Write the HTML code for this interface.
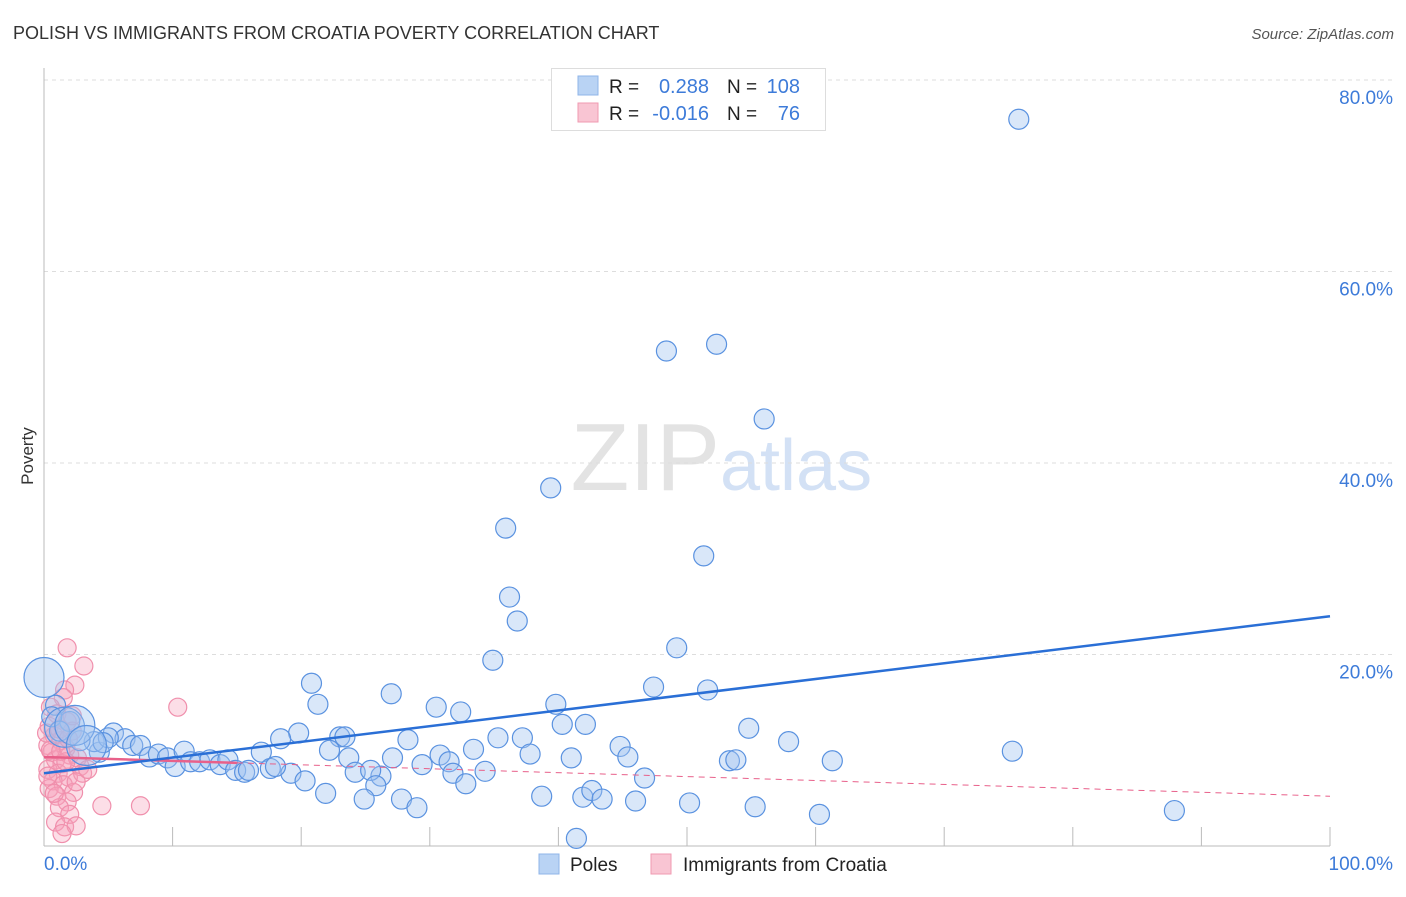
<!DOCTYPE html>
<html><head><meta charset="utf-8"><style>
body{margin:0;background:#fff;font-family:"Liberation Sans",sans-serif;}
svg text{font-family:"Liberation Sans",sans-serif;}
</style></head><body>
<svg id="chart" width="1406" height="892" xmlns="http://www.w3.org/2000/svg">
<text x="13" y="39" font-size="18" fill="#333">POLISH VS IMMIGRANTS FROM CROATIA POVERTY CORRELATION CHART</text>
<text x="1394" y="39" font-size="15" fill="#555" text-anchor="end" font-style="italic">Source: ZipAtlas.com</text>
<text x="33" y="456" font-size="17" fill="#333" text-anchor="middle" transform="rotate(-90 33 456)">Poverty</text>
<text x="720" y="490" font-size="96" fill="#e3e3e3" text-anchor="end" font-family="Liberation Serif">ZIP</text>
<text x="720" y="490" font-size="72" fill="#d3e1f5">atlas</text>
<g id="grid"></g>
<g id="axes"></g>
<g id="pinkpts"></g>
<g id="bluepts"></g>
<g id="lines"></g>
<g>
<rect x="551.5" y="68.5" width="274" height="62" fill="#fff" stroke="#ddd"/>
<rect x="578" y="76" width="20" height="19" fill="#b9d3f4" stroke="#8fb4e8"/>
<rect x="578" y="103" width="20" height="19" fill="#f9c5d3" stroke="#f09ab2"/>
<text x="609" y="93" font-size="19" fill="#222">R =</text>
<text x="709" y="93" font-size="20" fill="#3d7bd9" text-anchor="end">0.288</text>
<text x="727" y="93" font-size="19" fill="#222">N =</text>
<text x="800" y="93" font-size="20" fill="#3d7bd9" text-anchor="end">108</text>
<text x="609" y="120" font-size="19" fill="#222">R =</text>
<text x="709" y="120" font-size="20" fill="#3d7bd9" text-anchor="end">-0.016</text>
<text x="727" y="120" font-size="19" fill="#222">N =</text>
<text x="800" y="120" font-size="20" fill="#3d7bd9" text-anchor="end">76</text>
</g>
<g>
<rect x="539" y="854" width="20" height="20" fill="#b9d3f4" stroke="#8fb4e8"/>
<text x="570" y="871" font-size="19" fill="#222">Poles</text>
<rect x="651" y="854" width="20" height="20" fill="#f9c5d3" stroke="#f09ab2"/>
<text x="683" y="871" font-size="19" fill="#222">Immigrants from Croatia</text>
</g>
</svg>
<script>
const yTicks=[20,40,60,80];
const xTickLabels=["0.0%","100.0%"];
const blueX=[75.8,48.4,52.3,56.0,39.4,35.9,51.3,36.2,36.8,34.9,49.2,20.8,21.3,27.0,47.4,51.6,39.8,30.5,32.4,19.8,18.4,54.8,40.3,42.1,28.3,35.3,37.2,57.9,23.0,23.4,44.8,75.3,22.2,16.9,33.4,30.8,37.8,41.0,45.4,23.7,27.1,29.4,31.5,53.3,53.8,61.3,34.3,24.2,26.2,25.4,31.8,19.2,20.3,46.7,25.8,32.8,21.9,24.9,27.8,29.0,38.7,41.9,42.6,43.4,46.0,50.2,55.3,60.3,87.9,41.4,0.9,4.3,3.9,5.4,6.3,6.9,7.5,8.2,8.9,9.6,10.2,10.9,11.4,12.1,12.9,13.7,14.3,14.9,15.6,15.9,17.6,18.0,5.0,4.6,2.0,2.8,0.6,1.2];
const blueY=[75.9,51.7,52.4,44.6,37.4,33.2,30.3,26.0,23.5,19.4,20.7,17.0,14.8,15.9,16.6,16.3,14.8,14.5,14.0,11.8,11.2,12.3,12.7,12.7,11.1,11.3,11.3,10.9,11.4,11.4,10.4,9.9,10.0,9.8,10.1,9.5,9.6,9.2,9.3,9.2,9.2,8.5,8.8,8.9,9.0,8.9,7.8,7.7,7.3,7.9,7.6,7.6,6.8,7.1,6.3,6.5,5.5,4.9,4.9,4.0,5.2,5.1,5.8,4.9,4.7,4.5,4.1,3.3,3.7,0.8,14.7,9.8,10.9,11.8,11.2,10.5,10.5,9.3,9.6,9.2,8.3,9.9,8.8,8.8,9.0,8.5,9.0,7.9,7.7,7.9,8.1,8.3,11.3,10.8,13.0,11.0,13.5,12.0];
const blueBigX=[0,1.6,2.4,3.3];
const blueBigY=[17.6,12.4,12.6,10.5];
const pinkX=[1.8,3.1,2.4,1.6,1.5,0.5,1.0,1.8,0.4,2.2,0.8,1.3,0.3,1.7,0.6,2.0,0.9,1.4,2.8,0.3,1.1,1.9,0.7,1.5,0.4,2.3,1.0,1.8,1.2,2.0,0.9,1.6,2.5,1.4,10.4,4.5,7.5,2.6,3.0,0.2,2.2,1.2,0.5,1.7,2.5,0.8,1.3,0.3,1.9,3.4];
const pinkY=[20.7,18.8,16.8,16.3,15.5,14.5,13.8,13.0,12.5,12.0,11.5,11.0,10.5,10.2,9.8,9.5,9.0,8.6,8.3,8.0,7.6,7.2,6.8,6.4,6.0,5.6,5.2,4.6,4.0,3.3,2.5,2.0,2.1,1.3,14.5,4.2,4.2,9.2,7.6,11.8,13.6,12.2,10.0,8.8,6.7,5.5,9.9,7.3,11.2,8.0];
const blueTrend=[7.6,24.0];
const pinkTrend=[9.3,5.2];
const NS="http://www.w3.org/2000/svg";
const X0=44,X1=1330,Y0=846,Y80=80;
const sx=v=>X0+(X1-X0)*v/100;
const sy=v=>Y0-(Y0-Y80)*v/80;
function mk(t,a,p){const e=document.createElementNS(NS,t);for(const k in a)e.setAttribute(k,a[k]);p.appendChild(e);return e;}
const grid=document.getElementById('grid');
yTicks.forEach(v=>{
 const l=mk('line',{x1:X0,x2:1394,y1:sy(v),y2:sy(v),stroke:'#ddd','stroke-dasharray':'4 4'},grid);
 
 
 const t=mk('text',{x:1393,y:sy(v)+24,'font-size':19,fill:'#3d7bd9','text-anchor':'end'},grid);
 t.textContent=v.toFixed(1)+'%';
 
 
});
const axes=document.getElementById('axes');
const ya=mk('line',{x1:X0,x2:X0,y1:68,y2:Y0,stroke:'#bbb'},axes);


const xa=mk('line',{x1:X0,x2:X1,y1:Y0,y2:Y0,stroke:'#bbb'},axes);


for(let i=1;i<=10;i++){
 const tk=mk('line',{x1:sx(i*10),x2:sx(i*10),y1:827,y2:Y0,stroke:'#bbb'},axes);
 
 
}
[[0,'start'],[100,'end']].forEach((p,i)=>{
 const t=mk('text',{x:i?1393:44,y:870,'font-size':19,fill:'#3d7bd9','text-anchor':p[1]},axes);
 t.textContent=xTickLabels[i];
 
 
});
const pg=document.getElementById('pinkpts');
pinkX.forEach((v,i)=>{
 const c=mk('circle',{cx:sx(v),cy:sy(pinkY[i]),r:9,fill:'rgba(246,160,186,0.35)',stroke:'#f08fac','stroke-width':1.2},pg);
 
 
});
const bg=document.getElementById('bluepts');
blueX.forEach((v,i)=>{
 const c=mk('circle',{cx:sx(v),cy:sy(blueY[i]),r:10,fill:'rgba(160,196,240,0.4)',stroke:'#5a92e0','stroke-width':1.2},bg);
 
 
});
blueBigX.forEach((v,i)=>{
 const c=mk('circle',{cx:sx(v),cy:sy(blueBigY[i]),r:20,fill:'rgba(160,196,240,0.4)',stroke:'#5a92e0','stroke-width':1.2},bg);
 
 
});
const lg=document.getElementById('lines');
const pyAt=x=>pinkTrend[0]+(pinkTrend[1]-pinkTrend[0])*x/100;
const p1=mk('line',{x1:sx(0),y1:sy(pinkTrend[0]),x2:sx(15),y2:sy(pyAt(15)),stroke:'#e8608a','stroke-width':2.5},lg);


const p2=mk('line',{x1:sx(15),y1:sy(pyAt(15)),x2:sx(100),y2:sy(pinkTrend[1]),stroke:'#e8608a','stroke-width':1,'stroke-dasharray':'6 5'},lg);


const b1=mk('line',{x1:sx(0),y1:sy(blueTrend[0]),x2:sx(100),y2:sy(blueTrend[1]),stroke:'#2a6fd6','stroke-width':2.5},lg);


</script>
</body></html>
